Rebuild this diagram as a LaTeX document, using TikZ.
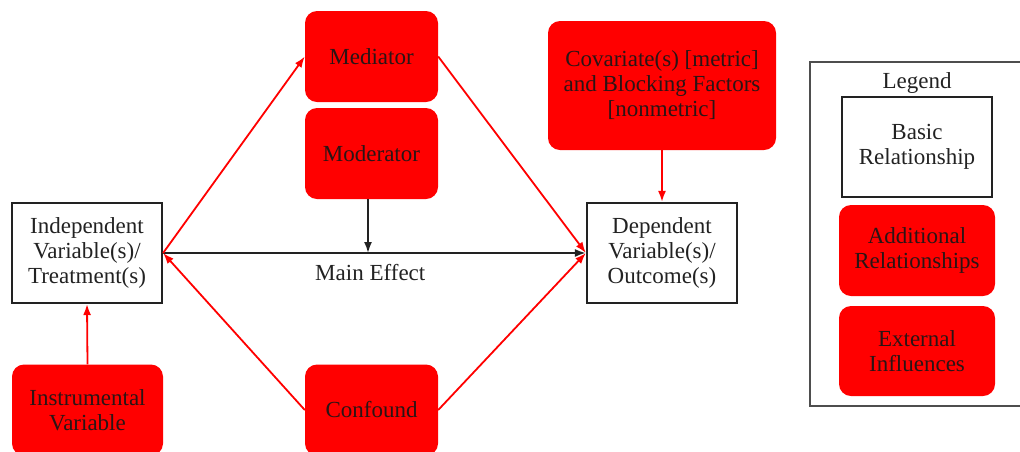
\documentclass[tikz,border=0pt]{standalone}
\usepackage{fontspec}
\setmainfont{Liberation Serif}
\usetikzlibrary{arrows.meta}
\definecolor{txt}{HTML}{222222}
\definecolor{redtxt}{HTML}{2A1515}
\definecolor{boxred}{HTML}{FF0000}
\tikzset{
  basebox/.style={draw=txt, line width=2.2pt, fill=white, text=txt, align=center,
    minimum width=150pt, minimum height=100pt, inner sep=0pt,
    font=\fontsize{23}{25}\selectfont},
  redbox/.style={draw=none, fill=boxred, text=redtxt, align=center, rounded corners=12pt,
    inner sep=0pt, font=\fontsize{23}{25}\selectfont},
  blackarrow/.style={draw=txt, line width=1.8pt, -{Latex[length=11pt,width=8pt]}},
  redarrow/.style={draw=boxred, line width=1.8pt, -{Latex[length=11pt,width=8pt]}},
}
\begin{document}
\begin{tikzpicture}[x=1pt,y=-1pt]
\useasboundingbox (0,0) rectangle (1020,451);
% main nodes
\node[basebox] (iv) at (87,253) {Independent\\Variable(s)/\\Treatment(s)};
\node[basebox] (dv) at (662,253) {Dependent\\Variable(s)/\\Outcome(s)};
\node[redbox, minimum width=133pt, minimum height=91pt] (med) at (371.5,56.5) {Mediator};
\node[redbox, minimum width=133pt, minimum height=91pt] (mod) at (371.5,153.5) {Moderator};
\node[redbox, minimum width=228pt, minimum height=129pt] (cov) at (662,85.5) {Covariate(s) [metric]\\and Blocking Factors\\{[nonmetric]}};
\node[redbox, minimum width=151pt, minimum height=91pt] (inst) at (87.5,410) {Instrumental\\Variable};
\node[redbox, minimum width=133pt, minimum height=91pt] (conf) at (371.5,410) {Confound};
% legend
\node[draw=txt!80, line width=1.2pt, minimum width=212pt, minimum height=344pt, inner sep=0pt] (leg) at (916,234) {};
\node[text=txt, font=\fontsize{23}{25}\selectfont, inner sep=0pt] (legt) at (917,83) {Legend};
\node[basebox] (lbasic) at (917,147) {Basic\\Relationship};
\node[redbox, minimum width=156pt, minimum height=91pt] (ladd) at (917,250.5) {Additional\\Relationships};
\node[redbox, minimum width=156pt, minimum height=90pt] (lext) at (917,351) {External\\Influences};
% connectors
\coordinate (mid) at (368,253);
\draw[blackarrow] (iv.east) -- node[below=10pt, pos=0.49, text=txt, font=\fontsize{23}{25}\selectfont, inner sep=0pt] (me) {Main Effect} (dv.west);
\draw[blackarrow] (mid |- mod.south) -- (mid);
\draw[redarrow] (iv.east) -- (med.west);
\draw[redarrow] (med.east) -- (dv.west);
\draw[redarrow] (conf.west) -- (iv.east);
\draw[redarrow] (conf.east) -- (dv.west);
\draw[redarrow] (cov.south) -- (dv.north);
\draw[redarrow] (inst.north) -- (iv.south);
\end{tikzpicture}
\end{document}
